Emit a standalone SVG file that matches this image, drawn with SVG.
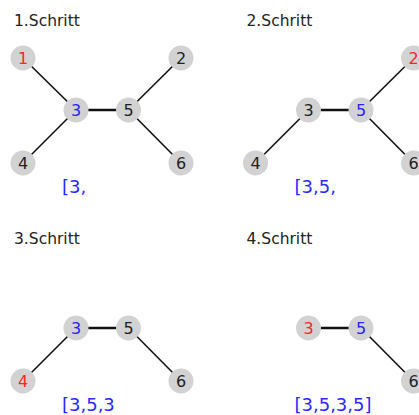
<svg xmlns="http://www.w3.org/2000/svg" width="419" height="415" viewBox="0 0 419 415">
<style>
.title{font-family:"DejaVu Sans",sans-serif;font-size:15.5px;fill:#222}
.node circle{fill:#d2d2d2}
.node text{font-family:"DejaVu Sans",sans-serif;font-size:16px;text-anchor:middle;fill:#222}
.node text.r{fill:#ff2424}
.node text.b{fill:#2424ff}
.edge{stroke:#111;stroke-width:1.6}
.edge.main{stroke-width:2.6}
.list{font-family:"DejaVu Sans",sans-serif;font-size:18px;fill:#2a2aff}
</style>
<rect width="419" height="415" fill="#fff"/>

<!-- Panel 1 -->
<g id="panel1">
<text class="title" x="14" y="25.5">1.Schritt</text>
<g id="p1-edges">
<line class="edge" x1="23" y1="58" x2="76" y2="110"/>
<line class="edge" x1="23" y1="163" x2="76" y2="110"/>
<line class="edge main" x1="76" y1="110" x2="128.5" y2="110"/>
<line class="edge" x1="128.5" y1="110" x2="181" y2="58"/>
<line class="edge" x1="128.5" y1="110" x2="181" y2="163"/>
</g>
<g id="p1-n1" class="node"><circle cx="23" cy="58" r="12.5"/><text class="r" x="23" y="63.8">1</text></g>
<g id="p1-n2" class="node"><circle cx="181" cy="58" r="12.5"/><text x="181" y="63.8">2</text></g>
<g id="p1-n3" class="node"><circle cx="76" cy="110" r="12.5"/><text class="b" x="76" y="115.8">3</text></g>
<g id="p1-n5" class="node"><circle cx="128.5" cy="110" r="12.5"/><text x="128.5" y="115.8">5</text></g>
<g id="p1-n4" class="node"><circle cx="23" cy="163" r="12.5"/><text x="23" y="168.8">4</text></g>
<g id="p1-n6" class="node"><circle cx="181" cy="163" r="12.5"/><text x="181" y="168.8">6</text></g>
<text class="list" x="62" y="193">[3,</text>
</g>

<!-- Panel 2 -->
<g id="panel2" transform="translate(232.5,0)">
<text class="title" x="14" y="25.5">2.Schritt</text>
<g id="p2-edges">
<line class="edge" x1="23" y1="163" x2="76" y2="110"/>
<line class="edge main" x1="76" y1="110" x2="128.5" y2="110"/>
<line class="edge" x1="128.5" y1="110" x2="181" y2="58"/>
<line class="edge" x1="128.5" y1="110" x2="181" y2="163"/>
</g>
<g id="p2-n2" class="node"><circle cx="181" cy="58" r="12.5"/><text class="r" x="181" y="63.8">2</text></g>
<g id="p2-n3" class="node"><circle cx="76" cy="110" r="12.5"/><text x="76" y="115.8">3</text></g>
<g id="p2-n5" class="node"><circle cx="128.5" cy="110" r="12.5"/><text class="b" x="128.5" y="115.8">5</text></g>
<g id="p2-n4" class="node"><circle cx="23" cy="163" r="12.5"/><text x="23" y="168.8">4</text></g>
<g id="p2-n6" class="node"><circle cx="181" cy="163" r="12.5"/><text x="181" y="168.8">6</text></g>
<text class="list" x="62" y="193">[3,5,</text>
</g>

<!-- Panel 3 -->
<g id="panel3" transform="translate(0,218)">
<text class="title" x="14" y="25.5">3.Schritt</text>
<g id="p3-edges">
<line class="edge" x1="23" y1="163" x2="76" y2="110"/>
<line class="edge main" x1="76" y1="110" x2="128.5" y2="110"/>
<line class="edge" x1="128.5" y1="110" x2="181" y2="163"/>
</g>
<g id="p3-n3" class="node"><circle cx="76" cy="110" r="12.5"/><text class="b" x="76" y="115.8">3</text></g>
<g id="p3-n5" class="node"><circle cx="128.5" cy="110" r="12.5"/><text x="128.5" y="115.8">5</text></g>
<g id="p3-n4" class="node"><circle cx="23" cy="163" r="12.5"/><text class="r" x="23" y="168.8">4</text></g>
<g id="p3-n6" class="node"><circle cx="181" cy="163" r="12.5"/><text x="181" y="168.8">6</text></g>
<text class="list" x="62" y="193">[3,5,3</text>
</g>

<!-- Panel 4 -->
<g id="panel4" transform="translate(232.5,218)">
<text class="title" x="14" y="25.5">4.Schritt</text>
<g id="p4-edges">
<line class="edge main" x1="76" y1="110" x2="128.5" y2="110"/>
<line class="edge" x1="128.5" y1="110" x2="181" y2="163"/>
</g>
<g id="p4-n3" class="node"><circle cx="76" cy="110" r="12.5"/><text class="r" x="76" y="115.8">3</text></g>
<g id="p4-n5" class="node"><circle cx="128.5" cy="110" r="12.5"/><text class="b" x="128.5" y="115.8">5</text></g>
<g id="p4-n6" class="node"><circle cx="181" cy="163" r="12.5"/><text x="181" y="168.8">6</text></g>
<text class="list" x="62" y="193">[3,5,3,5]</text>
</g>
</svg>
